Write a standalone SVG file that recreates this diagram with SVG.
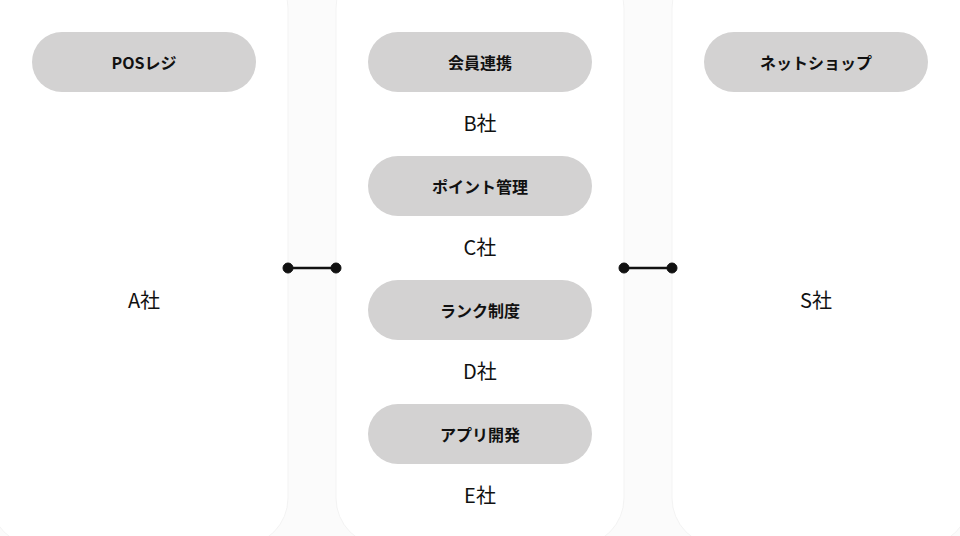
<svg xmlns="http://www.w3.org/2000/svg" width="960" height="536" viewBox="0 0 960 536">
<style>
.pill{fill:#d3d2d2}
.pt{font-family:"Noto Sans CJK JP","Noto Sans",sans-serif;font-size:16px;font-weight:bold;fill:#111;text-anchor:middle;dominant-baseline:central}
.lb{font-family:"Noto Sans CJK JP","Noto Sans",sans-serif;font-size:20px;fill:#111;text-anchor:middle;dominant-baseline:central}
.panel{fill:#ffffff;stroke:#f3f3f3;stroke-width:1}
</style>
<rect width="960" height="536" fill="#fbfbfb"/>
<g id="panels">
<rect class="panel" x="-10" y="-40" width="298" height="586" rx="48"/>
<rect class="panel" x="336" y="-40" width="288" height="586" rx="48"/>
<rect class="panel" x="672" y="-40" width="298" height="586" rx="48"/>
</g>
<g id="companyA"><rect class="pill" x="32" y="32" width="224" height="60" rx="30"/><text class="pt" x="144" y="62">POSレジ</text><text class="lb" x="144" y="299">A社</text></g>
<g id="companyB"><rect class="pill" x="368" y="32" width="224" height="60" rx="30"/><text class="pt" x="480" y="62">会員連携</text><text class="lb" x="480" y="122">B社</text></g>
<g id="companyC"><rect class="pill" x="368" y="156" width="224" height="60" rx="30"/><text class="pt" x="480" y="186">ポイント管理</text><text class="lb" x="480" y="246">C社</text></g>
<g id="companyD"><rect class="pill" x="368" y="280" width="224" height="60" rx="30"/><text class="pt" x="480" y="310">ランク制度</text><text class="lb" x="480" y="370">D社</text></g>
<g id="companyE"><rect class="pill" x="368" y="404" width="224" height="60" rx="30"/><text class="pt" x="480" y="434">アプリ開発</text><text class="lb" x="480" y="494">E社</text></g>
<g id="companyS"><rect class="pill" x="704" y="32" width="224" height="60" rx="30"/><text class="pt" x="816" y="62">ネットショップ</text><text class="lb" x="816" y="299">S社</text></g>
<g id="connectors" fill="#111" stroke="#111">
<line x1="288" y1="268" x2="336" y2="268" stroke-width="2.5"/><circle cx="288" cy="268" r="5"/><circle cx="336" cy="268" r="5"/>
<line x1="624" y1="268" x2="672" y2="268" stroke-width="2.5"/><circle cx="624" cy="268" r="5"/><circle cx="672" cy="268" r="5"/>
</g>
</svg>
